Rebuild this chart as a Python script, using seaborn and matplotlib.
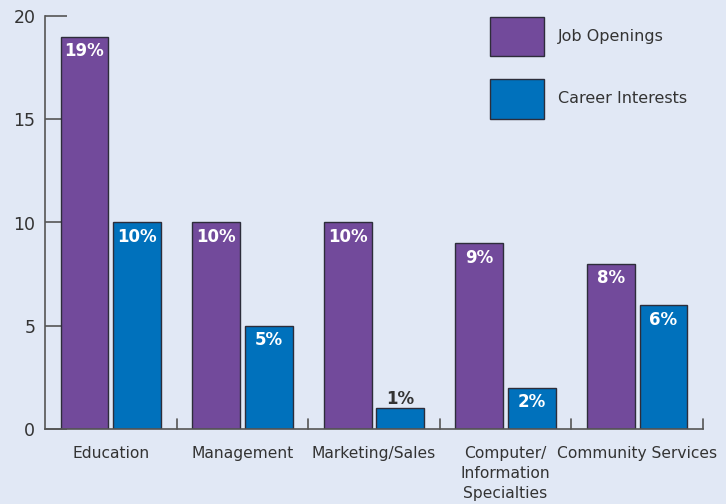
import matplotlib
matplotlib.use("Agg")
import matplotlib.pyplot as plt
import seaborn as sns
import pandas as pd

categories = ["Education", "Management", "Marketing/Sales",
              "Computer/\nInformation\nSpecialties", "Community Services"]
job_openings = [19, 10, 10, 9, 8]
career_interests = [10, 5, 1, 2, 6]
series = ["Job Openings", "Career Interests"]

bg = "#E1E8F5"
purple = "#724A9B"
blue = "#0071BC"
ink = "#333333"

df = pd.DataFrame({
    "category": categories * 2,
    "value": job_openings + career_interests,
    "series": [series[0]] * len(categories) + [series[1]] * len(categories),
})

sns.set_style("white")
plt.rcParams["font.family"] = ["DejaVu Sans"]

fig = plt.figure(figsize=(7.26, 5.04), dpi=100, facecolor=bg)
ax = fig.add_axes([45 / 726, 75 / 504, (703 - 45) / 726, (429 - 16) / 504])
ax.set_facecolor(bg)

sns.barplot(data=df, x="category", y="value", hue="series", order=categories,
            hue_order=series, palette=[purple, blue], saturation=1, gap=0.09,
            edgecolor="#2d2d3a", linewidth=1.0, ax=ax, legend=False)

# percentage labels
for cont in ax.containers:
    for bar in cont:
        h = bar.get_height()
        xc = bar.get_x() + bar.get_width() / 2
        if h < 1.5:
            ax.text(xc, h + 0.45, f"{h:.0f}%", ha="center", va="center",
                    color=ink, fontsize=12, fontweight="bold")
        else:
            ax.text(xc, h - 0.7, f"{h:.0f}%", ha="center", va="center",
                    color="white", fontsize=12, fontweight="bold")

ax.set_xlim(-0.5, 4.5)
ax.set_ylim(0, 20)
ax.set_yticks([0, 5, 10, 15, 20])
ax.set_xticks([i for i in range(5)])
ax.set_xticklabels(categories, fontsize=11.2, color=ink, va="top",
                   linespacing=1.45)
ax.tick_params(axis="y", left=True, direction="in", length=16, width=1.2,
               color="#555555", labelsize=12.5, labelcolor=ink, pad=7)
ax.tick_params(axis="x", length=0, pad=12)
# inward ticks between category groups
for b in [0.5, 1.5, 2.5, 3.5, 4.5]:
    ax.plot([b, b], [0, 0.5], color="#555555", lw=1.2, clip_on=False)
ax.set_xlabel("")
ax.set_ylabel("")

for s in ["top", "right"]:
    ax.spines[s].set_visible(False)
for s in ["left", "bottom"]:
    ax.spines[s].set_color("#555555")
    ax.spines[s].set_linewidth(1.2)

handles = [plt.Rectangle((0, 0), 1, 1, facecolor=c, edgecolor="#2d2d3a", lw=1.0)
           for c in [purple, blue]]
fig.legend(handles, series, loc="upper left", bbox_to_anchor=(482 / 726, 1 - 9 / 504),
           frameon=False, fontsize=11.5, handlelength=3.4, handleheight=3.4,
           labelspacing=1.45, handletextpad=0.85, borderpad=0, labelcolor=ink)

fig.savefig("out.png", dpi=100, facecolor=bg)
